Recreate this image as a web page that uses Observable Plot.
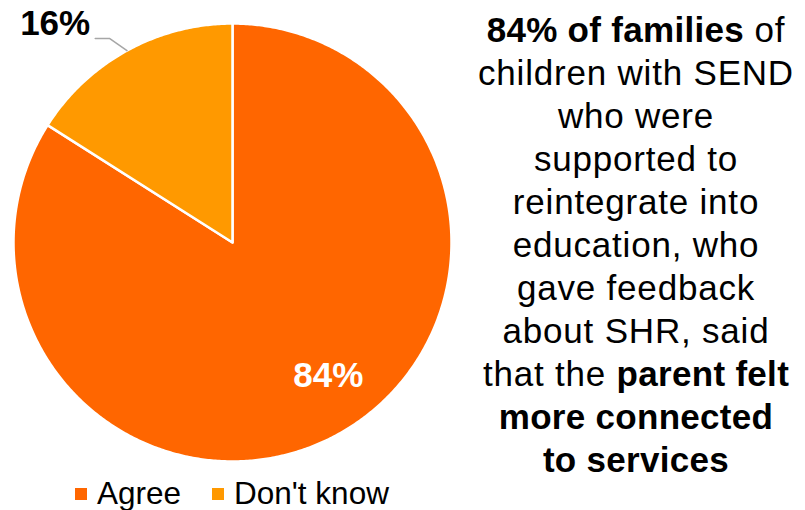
<!DOCTYPE html>
<html>
<head>
<meta charset="utf-8">
<script src="https://cdn.jsdelivr.net/npm/d3@7"></script>
<script src="https://cdn.jsdelivr.net/npm/@observablehq/plot@0.6"></script>
<style>
  html, body { margin: 0; padding: 0; background: #fff; }
  #wrap { position: relative; width: 805px; height: 510px; overflow: hidden; font-family: "Liberation Sans", Arial, sans-serif; }
  #chart { position: absolute; left: 0; top: 0; }
  #legend { position: absolute; left: 75px; top: 475px; }
  #note { position: absolute; left: 466px; top: 8px; width: 340px; text-align: center;
          font-size: 35px; line-height: 43px; color: #000; letter-spacing: 0.8px; }
  #note b { font-weight: bold; letter-spacing: 0.3px; }
</style>
</head>
<body>
<div id="wrap">
  <div id="chart"></div>
  <div id="legend"></div>
  <div id="note"><b>84% of families</b> of<br>children with SEND<br>who were<br>supported to<br>reintegrate into<br>education, who<br>gave feedback<br>about SHR, said<br>that the <b>parent felt</b><br><b>more connected</b><br><b>to services</b></div>
</div>
<script>
const categories = ["Agree", "Don't know"];
const values = [84, 16];
const colors = ["#FF6600", "#FF9900"];
const labels = ["84%", "16%"];

const arcs = d3.pie().sort(null)(values);
const polyPts = [];
arcs.forEach((a, i) => {
  const cat = categories[i];
  polyPts.push({cat, x: 0, y: 0});
  const n = Math.max(2, Math.ceil((a.endAngle - a.startAngle) / (Math.PI / 360)));
  for (let k = 0; k <= n; k++) {
    const t = a.startAngle + (a.endAngle - a.startAngle) * k / n;
    polyPts.push({cat, x: Math.sin(t), y: Math.cos(t)});
  }
  polyPts.push({cat, x: 0, y: 0});
});

const mid = a => (a.startAngle + a.endAngle) / 2;
// inside label for Agree
const inside = [{text: labels[0], x: 0.75 * Math.sin(mid(arcs[0]) - 0.12), y: 0.75 * Math.cos(mid(arcs[0]) - 0.12)}];
// leader for Don't know
const m1 = mid(arcs[1]);
const edge = {x: Math.sin(m1), y: Math.cos(m1)};
const elbow = {x: 1.088 * Math.sin(m1 - 0.04), y: 1.088 * Math.cos(m1 - 0.04)};
const endPt = {x: elbow.x - 0.065, y: elbow.y};
const leader = [edge, elbow, endPt];

const chart = Plot.plot({
  width: 805,
  height: 476,
  marginLeft: 13,
  marginRight: 354,
  marginTop: 23,
  marginBottom: 15,
  x: {domain: [-1, 1], axis: null},
  y: {domain: [-1, 1], axis: null},
  color: {domain: categories, range: colors},
  style: {fontFamily: "'Liberation Sans', Arial, sans-serif", overflow: "visible"},
  marks: [
    Plot.line(polyPts, {x: "x", y: "y", z: "cat", fill: "cat", stroke: "white", strokeWidth: 2.5, strokeLinejoin: "round", curve: "linear"}),
    Plot.line(leader, {x: "x", y: "y", stroke: "#a6a6a6", strokeWidth: 1.5}),
    Plot.text([endPt], {x: "x", y: "y", text: () => labels[1], textAnchor: "end", dx: -5, dy: -15, fontSize: 35, fontWeight: "bold", fill: "#000"}),
    Plot.text(inside, {x: "x", y: "y", text: "text", fontSize: 35, fontWeight: "bold", fill: "#fff"})
  ]
});
document.getElementById("chart").append(chart);

const legend = Plot.legend({
  color: {domain: categories, range: colors},
  legend: "swatches",
  swatchSize: 12,
  className: "lg",
  style: {fontSize: "31.5px", fontFamily: "'Liberation Sans', Arial, sans-serif", color: "#000"}
});
document.getElementById("legend").append(legend);
</script>
<style>
  .lg-swatch { margin-right: 31px !important; }
  .lg-swatch > svg { margin-right: 10px !important; }
</style>
</body>
</html>
